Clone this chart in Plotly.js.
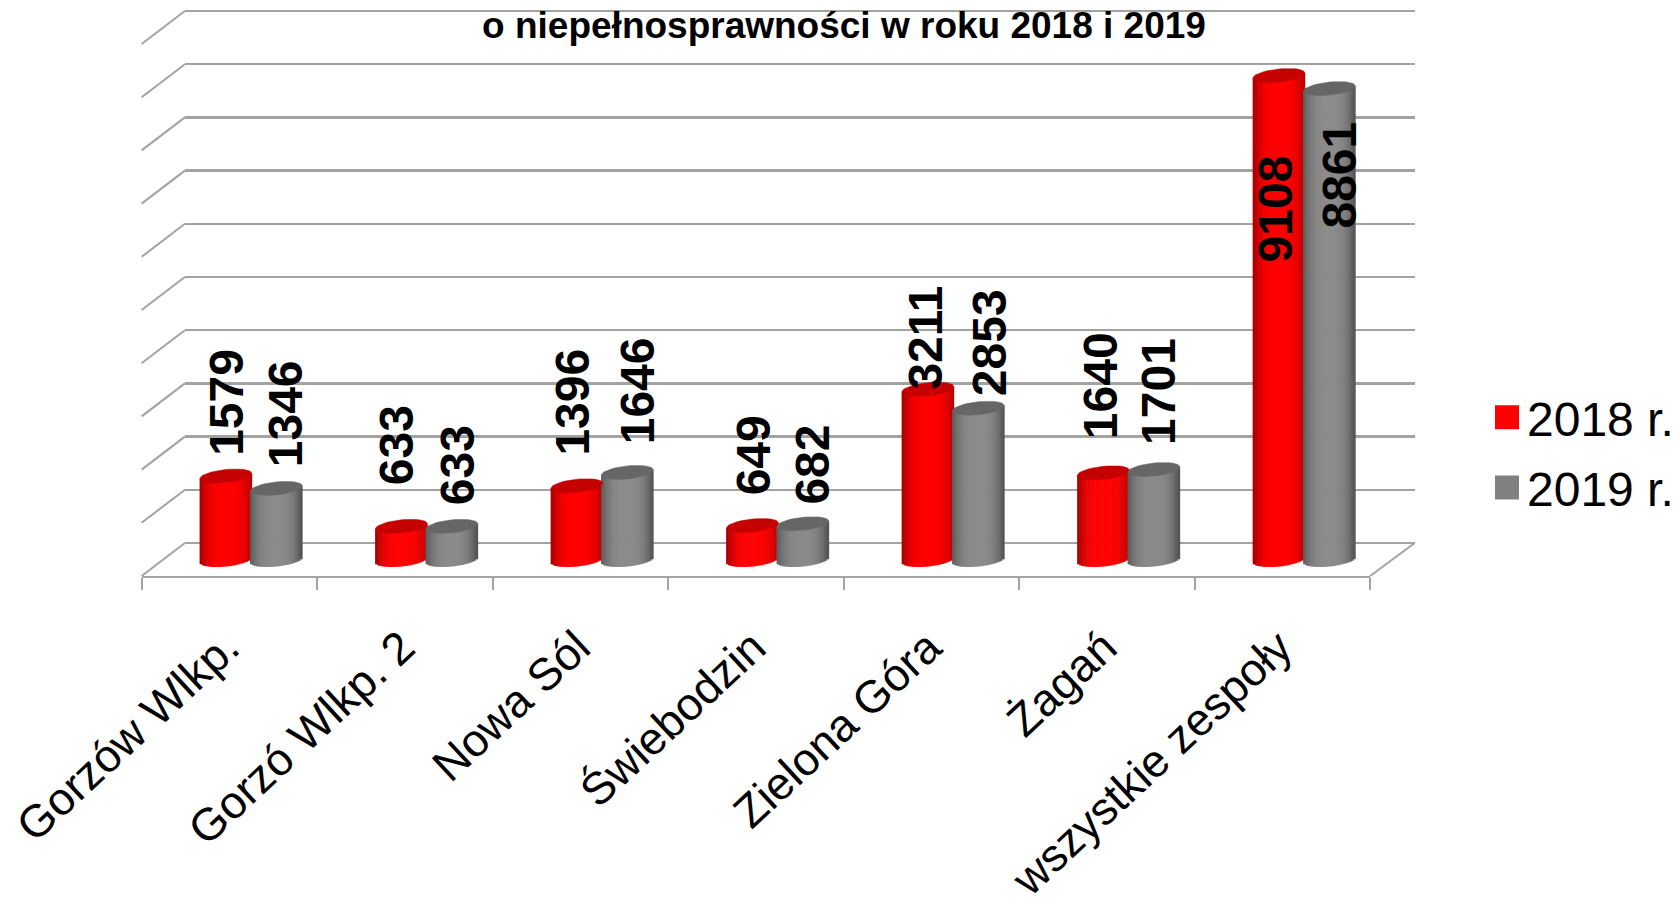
<!DOCTYPE html>
<html><head><meta charset="utf-8">
<script src="https://cdn.plot.ly/plotly-3.0.1.min.js"></script>
<style>html,body{margin:0;padding:0;background:#fff;overflow:hidden}</style>
</head><body><div id="chart" style="width:1679px;height:899px"></div>
<script>
const categories = ["Gorzów Wlkp.","Gorzó Wlkp. 2","Nowa Sól","Świebodzin","Zielona Góra","Żagań","wszystkie zespoły"];
const values2018 = [1579,633,1396,649,3211,1640,9108];
const values2019 = [1346,633,1646,682,2853,1701,8861];
const seriesNames = ["2018 r.","2019 r."];
const titleText = "o niepełnosprawności w roku 2018 i 2019";

const W=1679,H=899, FONT='Liberation Sans, Arial, sans-serif';
const pxPerUnit=0.0532, baseY=560, axisY=576;
const wall={l:185,r:1415.5,t:11,b:543};
const front={l:141.7,r:1371};
const grid=[0,1000,2000,3000,4000,5000,6000,7000,8000,9000,10000];
const catW=(front.r-front.l)/categories.length;
const GRID='#a3a3a3';
const xf=p=>p/W, yf=p=>(H-p)/H;
const frontTop=36;
const y2Range=[-(axisY-baseY)/pxPerUnit,(baseY-frontTop)/pxPerUnit];
const wallPad=4; // px of axis kept beyond first/last gridline so both are drawn
const wallUnit=(wall.b-wall.t)/10000;

const nStrips=26, halfW=26, semi=6.5, tilt=2.6;
const redCenter=-3.5, grayCenter=47;
function mix(a,b,t){return 'rgb('+a.map((v,i)=>Math.round(v+(b[i]-v)*t)).join(',')+')';}
const styles=[
 {edgeL:[170,0,0],mid:[255,0,0],edgeR:[190,0,0],top:'#c40000',center:redCenter,legend:'#ff0000'},
 {edgeL:[95,95,95],mid:[138,138,138],edgeR:[85,85,85],top:'#666666',center:grayCenter,legend:'#808080'}
];
const traces=[];
[values2018,values2019].forEach((vals,s)=>{
 const st=styles[s], mids=Math.floor(nStrips/2);
 for(let j=0;j<nStrips;j++){
  const u=(j+0.5)/nStrips*2-1;
  const edge=u<0?st.edgeL:st.edgeR;
  const t=Math.min(1,Math.abs(u)/0.95);
  const col=mix(st.mid,edge,Math.pow(t,3));
  const low=semi*Math.sqrt(1-u*u)-tilt*u;
  const hi=-tilt*u;
  const bases=vals.map(()=>-low/pxPerUnit);
  const heights=vals.map(v=>v-hi/pxPerUnit+low/pxPerUnit);
  traces.push({type:'bar',x:categories.map((c,i)=>i),y:heights,base:bases,
   xaxis:'x2',yaxis:'y2',
   offset:(st.center+u*halfW-halfW/nStrips-0.3)/catW,
   width:(2*halfW/nStrips+0.6)/catW,
   marker:{color:col,line:{width:0}},
   name:seriesNames[s],showlegend:j===mids,legendgroup:seriesNames[s],hoverinfo:'skip'});
 }
 const xs=[],ys=[];
 vals.forEach((v,i)=>{
  for(let a=0;a<=40;a++){
   const th=a/40*2*Math.PI,u=Math.cos(th);
   xs.push(i+(st.center+u*halfW)/catW);
   ys.push(v+(tilt*u+semi*Math.sin(th))/pxPerUnit);
  }
  xs.push(null);ys.push(null);
 });
 traces.push({type:'scatter',mode:'lines',x:xs,y:ys,xaxis:'x2',yaxis:'y2',fill:'toself',
   fillcolor:st.top,line:{width:0.5,color:st.top},showlegend:false,hoverinfo:'skip'});
});
traces.unshift({type:'scatter',mode:'none',x:[0,1],y:[0,10000],xaxis:'x',yaxis:'y',showlegend:false,hoverinfo:'skip'});

const labelDx=[[-3,-9,-8,-2,-6,-7,-6],[57,52,58,57,58,51,57]];
const labelDy=[[19,40,29,29,-1,33,-188],[20,20,27,18,11,24,-141]];
const annotations=[];
[values2018,values2019].forEach((vals,s)=>vals.forEach((v,i)=>{
 annotations.push({xref:'x2',yref:'y2',x:i,y:v,text:String(v),textangle:-90,showarrow:false,
  xanchor:'center',yanchor:'bottom',xshift:labelDx[s][i],yshift:labelDy[s][i],
  borderpad:0,font:{family:FONT,size:48,color:'#000',weight:'bold'}});
}));

const shapes=[];
grid.forEach(g=>{
 const p=wall.b-(wall.b-wall.t)*g/10000;
 shapes.push({type:'line',xref:'paper',yref:'paper',layer:'below',x0:xf(front.l),x1:xf(wall.l),
   y0:yf(p+33),y1:yf(p),line:{color:GRID,width:2}});
});
shapes.push({type:'line',xref:'paper',yref:'paper',layer:'below',x0:xf(front.r),x1:xf(wall.r),
   y0:yf(axisY),y1:yf(wall.b),line:{color:GRID,width:2}});

const layout={
 width:W,height:H,autosize:false,margin:{l:0,r:0,t:0,b:0},
 paper_bgcolor:'#fff',plot_bgcolor:'rgba(0,0,0,0)',
 barmode:'overlay',font:{family:FONT,color:'#000'},
 title:{text:titleText,x:844/W,xanchor:'center',y:(H-25)/H,yanchor:'middle',
   font:{family:FONT,size:37,color:'#000',weight:'bold'}},
 xaxis:{domain:[xf(wall.l),xf(wall.r)],range:[0,1],showgrid:false,zeroline:false,showticklabels:false,ticks:'',anchor:'y'},
 yaxis:{domain:[yf(wall.b+wallPad),yf(wall.t-wallPad)],range:[-wallPad/wallUnit,10000+wallPad/wallUnit],tickvals:grid,showgrid:true,gridcolor:GRID,gridwidth:2.4,
   zeroline:false,showticklabels:false,ticks:'',showline:false,anchor:'x'},
 xaxis2:{domain:[xf(front.l),xf(front.r)],range:[-0.5,6.5],anchor:'y2',showgrid:false,zeroline:false,
   showline:true,linecolor:GRID,linewidth:2.4,
   tickmode:'array',tickvals:categories.map((c,i)=>i),ticktext:categories,ticks:'',tickangle:-43,
   ticklabelstandoff:24,ticklabelshift:-3,
   tickfont:{family:FONT,size:45.5,color:'#000'},
   minor:{tickmode:'array',tickvals:[-0.5,0.5,1.5,2.5,3.5,4.5,5.5,6.5],ticks:'outside',ticklen:12,tickwidth:2,tickcolor:GRID,showgrid:false}},
 yaxis2:{domain:[yf(axisY),yf(frontTop)],range:y2Range,anchor:'x2',showgrid:false,zeroline:false,showticklabels:false,ticks:'',showline:false},
 legend:{x:1488/W,xanchor:'left',y:yf(455),yanchor:'middle',font:{family:FONT,size:48,color:'#000'},
   bgcolor:'rgba(0,0,0,0)',borderwidth:0,itemclick:false,itemdoubleclick:false},
 annotations,shapes,showlegend:true
};
Plotly.newPlot('chart',traces,layout,{displayModeBar:false,staticPlot:true}).then(gd=>{
 const items=document.querySelectorAll('.legend .traces');
 items.forEach((it,i)=>{
  const p=it.querySelector('.legendpoints path');
  if(p){p.setAttribute('d','M12,12H-12V-12H12Z');p.style.fill=styles[i].legend;}
 });
 if(items[1]){
  const tr=items[1].getAttribute('transform').match(/translate\(([^,]+),\s*([^)]+)\)/);
  items[1].setAttribute('transform','translate('+tr[1]+','+(parseFloat(tr[2])-5)+')');
 }
});
</script></body></html>
